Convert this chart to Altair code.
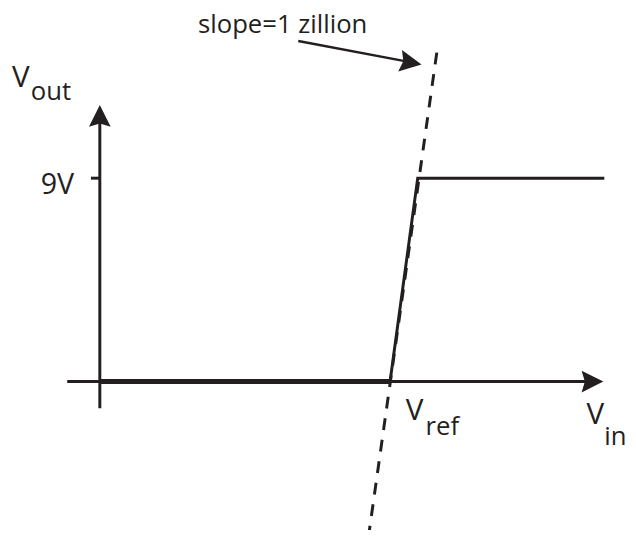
import altair as alt
import pandas as pd

# ---- canvas (image pixel coordinates, page margin = 8) ----
W, H = 628, 522
INK = "#231f20"
FONT = "Open Sans"

# ---- polylines (x, y in image pixels) ----
y_axis_x, y_axis_y = [101, 101], [410, 110]
x_axis_x, x_axis_y = [68, 602], [383, 383]
tick9_x, tick9_y = [92, 101], [177, 177]
low_x, low_y = [101, 395], [383, 383]
curve_x, curve_y = [395, 423, 612], [383, 177, 177]
pointer_x, pointer_y = [302, 418], [38, 60]
dash_x, dash_y = [373, 443], [541, 45]

# ---- arrow heads: centre, rotation ----
head_x = [101, 600, 416]
head_y = [114, 383, 60]
head_angle = [0, 90, 100]

# ---- labels ----
lab_text = ["V", "out", "V", "ref", "V", "in"]
lab_x = [12, 31, 411, 431, 594, 612]
lab_y = [85, 98, 422, 437, 426, 447]
lab_size = [30, 26, 30, 26, 30, 26]

rlab_text = ["slope=1 zillion", "9V"]
rlab_x = [372, 75]
rlab_y = [30, 193]
rlab_size = [26, 29]

rows = []
def add(name, xs, ys, w):
    for i, (a, b) in enumerate(zip(xs, ys)):
        rows.append({"seg": name, "o": i, "x": a, "y": b, "w": w})

add("yaxis", y_axis_x, y_axis_y, 3)
add("xaxis", x_axis_x, x_axis_y, 3)
add("tick9", tick9_x, tick9_y, 3)
add("low", low_x, low_y, 5)
add("curve", curve_x, curve_y, 3)
add("pointer", pointer_x, pointer_y, 2.5)
lines_df = pd.DataFrame(rows)
dash_df = pd.DataFrame({"x": dash_x, "y": dash_y, "o": [0, 1]})
heads_df = pd.DataFrame({"x": head_x, "y": head_y, "a": head_angle})
lab_df = pd.DataFrame({"t": lab_text, "x": lab_x, "y": lab_y, "s": lab_size})
rlab_df = pd.DataFrame({"t": rlab_text, "x": rlab_x, "y": rlab_y, "s": rlab_size})

xs = alt.Scale(domain=[8, 8 + W], nice=False, zero=False)
ys = alt.Scale(domain=[8, 8 + H], reverse=True, nice=False, zero=False)
X = alt.X("x:Q", scale=xs, axis=None)
Y = alt.Y("y:Q", scale=ys, axis=None)

lines = alt.Chart(lines_df).mark_line(color=INK, strokeCap="butt", strokeJoin="miter").encode(
    x=X, y=Y, detail="seg:N", order="o:Q",
    strokeWidth=alt.StrokeWidth("w:Q", scale=None),
)
dashed = alt.Chart(dash_df).mark_line(
    color=INK, strokeWidth=3, strokeDash=[12, 10], strokeCap="butt"
).encode(x=X, y=Y, order="o:Q")

heads = alt.Chart(heads_df).mark_point(
    shape="M0,-1L1,1L0,0.7L-1,1Z", filled=True, color=INK, opacity=1,
    size=484, strokeWidth=0,
).encode(x=X, y=Y, angle=alt.Angle("a:Q", scale=None))

labels = alt.Chart(lab_df).mark_text(
    align="left", baseline="alphabetic", font=FONT, color=INK
).encode(x=X, y=Y, text="t:N", size=alt.Size("s:Q", scale=None))

rlabels = alt.Chart(rlab_df).mark_text(
    align="right", baseline="alphabetic", font=FONT, color=INK
).encode(x=X, y=Y, text="t:N", size=alt.Size("s:Q", scale=None))

chart = alt.layer(dashed, lines, heads, labels, rlabels).properties(
    width=W, height=H, padding=0, autosize="none", background="white"
).configure_view(stroke=None)

chart.save("out.html", embed_options={"renderer": "svg", "actions": False})
